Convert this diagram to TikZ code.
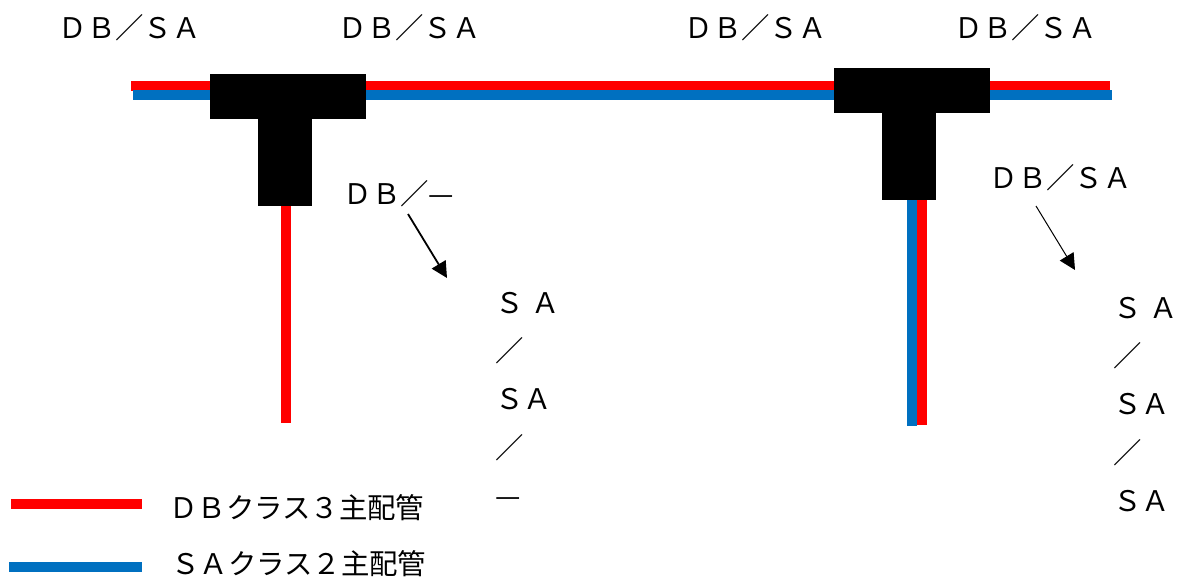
\documentclass[tikz,border=0pt]{standalone}
\usepackage{fontspec}
\usepackage{tikz}
\usetikzlibrary{arrows.meta, positioning}
\newfontfamily\jpfont{Noto Sans CJK JP}
\definecolor{pipeblue}{RGB}{0,112,192}

\begin{document}
\begin{tikzpicture}[x=1pt, y=-1pt,
    DBpipe/.style={draw=red, line width=10pt},
    SApipe/.style={draw=pipeblue, line width=10pt},
    teepart/.style={fill=black, inner sep=0pt},
    lbl/.style={font=\jpfont\fontsize{28.4}{30}\selectfont, inner sep=0pt, anchor=west},
    stack/.style={font=\jpfont\fontsize{28.4}{48.2}\selectfont, inner sep=0pt, anchor=north west, align=left},
    flowarrow/.style={-{Triangle[length=16pt, width=16pt]}}]
    \useasboundingbox (0,0) rectangle (1178,576);

    % Main pipes
    \coordinate (DBstart) at (131,86);
    \coordinate (DBend) at (1110,86);
    \coordinate (SAstart) at (133,95);
    \coordinate (SAend) at (1112,95);
    \draw[DBpipe] (DBstart) -- (DBend);
    \draw[SApipe] (SAstart) -- (SAend);

    % Branch pipes
    \coordinate (dropL) at (286,423);
    \coordinate (dropRsa) at (912,426);
    \coordinate (dropRdb) at (922,425);
    \draw[DBpipe] (286,200) -- (dropL);
    \draw[SApipe] (912,195) -- (dropRsa);
    \draw[DBpipe] (922,195) -- (dropRdb);

    % Tee fittings
    \node[teepart, minimum width=156pt, minimum height=45pt] (barL) at (288,96.5) {};
    \node[teepart, minimum width=54pt, minimum height=88pt, below=-1pt of barL, xshift=-3pt] (stemL) {};
    \node[teepart, minimum width=156pt, minimum height=45pt] (barR) at (912,90.5) {};
    \node[teepart, minimum width=54pt, minimum height=88pt, below=-1pt of barR, xshift=-3pt] (stemR) {};

    % Labels on the main pipe
    \node[lbl] (topA) at (58.5,28) {ＤＢ／ＳＡ};
    \node[lbl] (topB) at (338.5,28) {ＤＢ／ＳＡ};
    \node[lbl] (topC) at (684.5,28) {ＤＢ／ＳＡ};
    \node[lbl] (topD) at (954.5,28) {ＤＢ／ＳＡ};

    % Labels on the branches
    \node[lbl] (branchL) at (343.5,194) {ＤＢ／—};
    \node[lbl] (branchR) at (989.5,178) {ＤＢ／ＳＡ};
    \node[stack] (stackL) at (495,292) {Ｓ\hspace{8pt}Ａ\\／\\ＳＡ\\／\\—};
    \node[stack] (stackR) at (1113,297) {Ｓ\hspace{8pt}Ａ\\／\\ＳＡ\\／\\ＳＡ};

    % Arrows
    \coordinate (arrowLa) at (408,214);
    \coordinate (arrowLb) at (447,278);
    \coordinate (arrowRa) at (1036,206);
    \coordinate (arrowRb) at (1075,270);
    \draw[flowarrow, line width=1.8pt] (arrowLa) -- (arrowLb);
    \draw[flowarrow, line width=1pt] (arrowRa) -- (arrowRb);

    % Legend
    \coordinate (keyDBa) at (11,504);
    \coordinate (keyDBb) at (142,504);
    \coordinate (keySAa) at (9,566.5);
    \coordinate (keySAb) at (142,566.5);
    \draw[DBpipe] (keyDBa) -- (keyDBb);
    \draw[SApipe] (keySAa) -- (keySAb);
    \node[lbl] (keyDB) at (169,508) {ＤＢクラス３主配管};
    \node[lbl] (keySA) at (171,564) {ＳＡクラス２主配管};
\end{tikzpicture}
\end{document}
